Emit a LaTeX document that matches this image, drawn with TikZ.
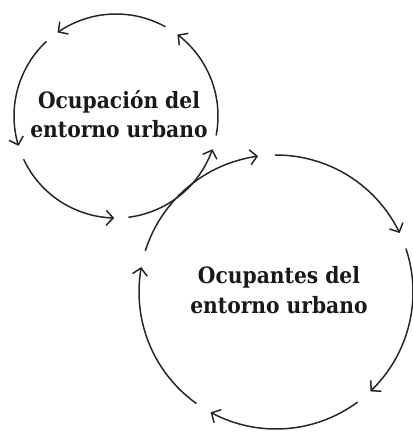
\documentclass[tikz,border=0pt]{standalone}
\usepackage{fontspec}
\setmainfont{DejaVu Serif Condensed}
\usetikzlibrary{arrows.meta,bending}
\begin{document}
\begin{tikzpicture}[x=1pt,y=1pt,
  cyc/.style={line width=1.5pt,draw=black!85,-{Straight Barb[length=7pt,width=15pt,line width=1.5pt]}},
  lbl/.style={font=\bfseries\fontsize{22.5}{29.5}\selectfont,align=center,text=black!90}]
\useasboundingbox (0,0) rectangle (413,-432);
\coordinate (c1) at (116,-116);
\coordinate (c2) at (276,-292);
% circle 1: counterclockwise, 5 arcs
\foreach \g in {57,129,201,273,345}{
  \pgfmathsetmacro{\s}{\g+4}
  \pgfmathsetmacro{\e}{\g+72-4}
  \draw[cyc] ([shift={(\s:102)}]c1) arc[start angle=\s,end angle=\e,radius=102];
}
% circle 2: clockwise, 5 arcs
\foreach \g in {94,22,-50,-122,-194}{
  \pgfmathsetmacro{\s}{\g-3.5}
  \pgfmathsetmacro{\e}{\g-72+3.5}
  \draw[cyc] ([shift={(\s:137)}]c2) arc[start angle=\s,end angle=\e,radius=137];
}
\node[lbl] (t1) at (119,-114) {Ocupación del\\entorno urbano};
\node[lbl] (t2) at (279,-290) {Ocupantes del\\entorno urbano};
\end{tikzpicture}
\end{document}
